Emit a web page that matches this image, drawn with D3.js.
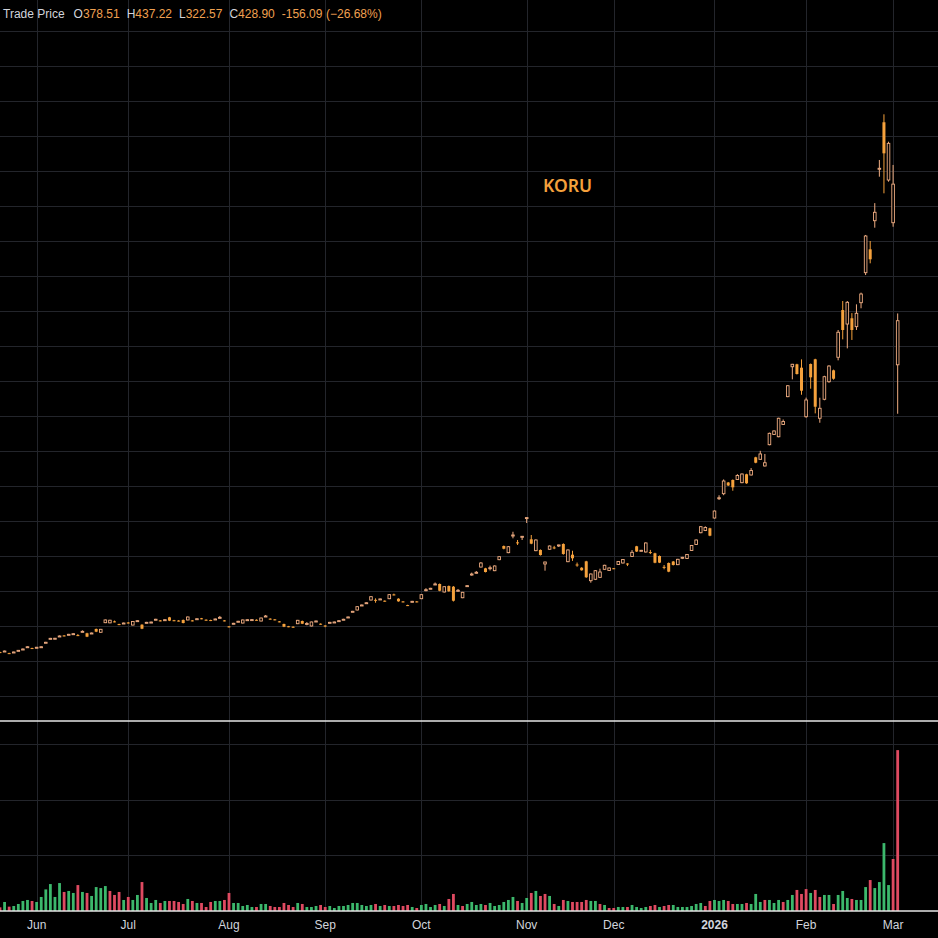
<!DOCTYPE html>
<html>
<head>
<meta charset="utf-8">
<script src="https://cdn.jsdelivr.net/npm/d3@7"></script>
<style>
  html, body { margin: 0; background: #000; }
  svg { display: block; }
</style>
</head>
<body>
<svg id="chart"></svg>
<script>
// Data
const SYMBOL = "KORU";
const SERIES_NAME = "Trade Price";
const FIRST_DAY = "2025-05-20";
const LAST_DAY = "2026-03-03";
const HOLIDAYS = ["2025-05-26", "2025-06-19", "2025-07-04", "2025-09-01", "2025-11-27",
  "2025-12-25", "2026-01-01", "2026-01-19", "2026-02-16"];

const opens = [
  50.2, 50.7, 49.0, 49.6, 51.5, 53.0, 55.6, 54.8, 55.0, 55.7,
  60.7, 65.2, 65.3, 67.9, 69.2, 69.8, 70.5, 69.6, 73.2, 71.7,
  71.3, 76.6, 72.8, 83.8, 83.6, 85.3, 82.2, 82.7, 84.0, 81.1,
  85.4, 81.5, 83.5, 83.9, 87.0, 86.4, 86.5, 89.9, 86.6, 86.2,
  86.9, 86.9, 86.4, 87.6, 88.8, 87.2, 86.8, 87.3, 89.4, 86.4,
  79.6, 82.4, 84.7, 83.4, 86.5, 86.8, 87.1, 85.7, 90.7, 88.4,
  87.6, 85.3, 82.3, 79.7, 79.2, 82.6, 85.7, 82.4, 80.0, 85.0,
  82.6, 80.6, 83.5, 84.0, 85.5, 87.1, 89.6, 96.1, 98.3, 103.3,
  105.9, 109.7, 109.9, 110.2, 108.9, 111.2, 116.1, 111.2, 108.1, 103.9,
  107.5, 108.1, 111.2, 121.0, 122.4, 127.3, 128.0, 118.9, 125.7, 124.9,
  120.0, 112.3, 125.4, 139.0, 140.9, 147.4, 145.9, 146.3, 143.2, 155.8,
  171.4, 163.8, 183.6, 175.6, 182.0, 203.4, 179.1, 166.1, 166.9, 150.9,
  167.7, 169.8, 172.3, 173.7, 153.5, 161.5, 150.3, 146.6, 153.9, 131.8,
  133.4, 135.6, 144.8, 143.4, 146.0, 150.3, 152.0, 151.4, 159.4, 171.1,
  165.9, 164.6, 164.5, 163.1, 160.0, 147.6, 152.0, 153.7, 150.1, 158.0,
  157.1, 166.3, 173.1, 186.6, 189.1, 191.7, 203.4, 226.2, 231.2, 244.0,
  246.9, 247.4, 243.8, 253.4, 252.6, 272.8, 270.5, 262.9, 287.2, 298.9,
  296.3, 310.3, 342.1, 376.3, 379.1, 375.2, 319.2, 379.4, 384.8, 317.4,
  339.1, 359.2, 372.2, 387.1, 441.1, 425.1, 431.7, 422.1, 449.5, 483.8,
  510.5, 543.2, 602.5, 655.7, 589.7, 540.9, 378.51
];
const highs = [
  50.6, 51.9, 49.4, 50.7, 52.6, 54.3, 56.8, 55.2, 56.1, 56.8,
  61.9, 66.4, 66.4, 69.2, 69.6, 71.0, 71.7, 70.8, 75.0, 72.3,
  72.5, 77.1, 76.7, 87.4, 87.1, 86.2, 82.6, 83.9, 84.5, 85.6,
  86.6, 82.0, 84.7, 85.0, 88.2, 86.8, 87.7, 90.4, 87.0, 86.7,
  87.4, 90.8, 86.8, 88.8, 89.2, 87.6, 87.2, 88.5, 91.5, 86.8,
  80.0, 83.6, 85.9, 87.4, 87.7, 87.8, 87.6, 89.6, 92.6, 88.8,
  87.9, 85.7, 82.7, 80.1, 79.6, 87.0, 86.2, 84.5, 85.0, 86.2,
  83.0, 80.8, 84.7, 85.0, 86.6, 88.2, 90.8, 97.3, 102.6, 104.5,
  107.1, 114.0, 111.6, 111.4, 109.3, 116.3, 117.0, 111.7, 108.5, 104.3,
  108.7, 108.5, 116.3, 123.2, 123.6, 129.7, 128.6, 125.5, 126.3, 125.7,
  122.3, 119.0, 126.6, 141.0, 142.8, 153.0, 146.5, 149.0, 149.2, 159.8,
  172.0, 171.4, 187.7, 178.3, 182.9, 204.2, 184.0, 179.0, 167.5, 153.5,
  172.0, 171.6, 173.0, 174.5, 167.5, 166.0, 152.5, 147.2, 154.5, 140.0,
  144.0, 145.5, 150.0, 146.8, 146.3, 154.2, 156.5, 151.7, 166.8, 171.6,
  167.0, 175.5, 167.0, 163.7, 160.6, 149.7, 152.6, 154.3, 156.8, 159.0,
  162.3, 172.6, 178.9, 194.1, 193.9, 192.3, 212.0, 229.4, 247.5, 244.6,
  247.5, 253.5, 254.3, 254.0, 260.5, 273.4, 280.2, 276.6, 301.0, 303.5,
  318.0, 316.0, 355.2, 379.6, 379.7, 384.7, 341.0, 380.0, 385.4, 340.9,
  366.0, 378.0, 373.0, 418.3, 451.4, 451.4, 437.6, 447.6, 461.0, 526.9,
  520.0, 563.3, 612.6, 664.8, 633.5, 606.9, 437.22
];
const lows = [
  49.0, 50.4, 47.9, 49.3, 51.2, 52.7, 55.3, 53.7, 54.6, 55.4,
  60.4, 64.9, 65.0, 67.6, 68.1, 69.5, 70.2, 68.5, 72.9, 67.3,
  70.9, 73.0, 72.3, 83.3, 83.2, 84.2, 81.0, 82.3, 82.8, 80.7,
  85.0, 76.4, 83.1, 83.5, 86.6, 85.3, 86.1, 85.6, 85.5, 85.2,
  83.0, 86.5, 85.3, 87.2, 87.7, 86.1, 85.6, 86.9, 88.5, 85.3,
  78.3, 82.0, 84.4, 83.0, 86.1, 86.4, 86.2, 85.3, 90.3, 87.3,
  86.5, 84.2, 78.7, 78.6, 78.0, 82.2, 82.2, 80.8, 79.6, 84.6,
  81.5, 78.6, 83.1, 83.6, 85.1, 86.7, 89.2, 95.7, 97.8, 102.9,
  105.5, 109.2, 106.6, 109.8, 107.8, 110.7, 115.0, 107.7, 107.0, 102.8,
  107.1, 107.0, 110.7, 119.7, 122.0, 126.9, 119.7, 118.3, 119.1, 108.0,
  119.5, 111.8, 124.9, 137.5, 139.8, 146.9, 141.2, 143.5, 142.7, 155.2,
  167.6, 163.2, 180.2, 172.6, 178.3, 197.7, 173.5, 165.5, 160.5, 143.2,
  167.2, 167.8, 170.3, 161.5, 153.0, 154.4, 147.7, 143.2, 135.0, 129.5,
  132.5, 135.0, 144.3, 143.0, 145.0, 149.8, 151.5, 148.5, 158.9, 164.6,
  165.5, 164.0, 162.2, 151.7, 151.9, 144.8, 141.5, 149.2, 149.6, 156.5,
  156.6, 165.8, 172.6, 186.0, 188.5, 182.6, 202.9, 224.0, 229.5, 240.0,
  234.6, 246.9, 243.2, 242.5, 252.0, 266.0, 270.0, 262.3, 286.5, 298.3,
  295.7, 309.7, 341.5, 361.9, 367.4, 344.3, 318.0, 351.2, 323.0, 312.3,
  338.0, 358.0, 361.5, 383.6, 407.6, 397.3, 406.9, 418.3, 443.1, 481.1,
  494.5, 535.2, 593.5, 574.5, 587.8, 536.3, 322.57
];
const closes = [
  49.5, 51.4, 48.3, 50.3, 52.2, 53.7, 56.3, 54.1, 55.7, 56.3,
  61.4, 65.9, 66.0, 68.6, 68.4, 70.5, 71.2, 68.9, 73.9, 67.8,
  72.0, 73.5, 76.2, 86.9, 86.6, 84.6, 81.5, 83.4, 83.2, 85.1,
  86.1, 76.9, 84.2, 84.5, 87.7, 85.7, 87.2, 86.1, 85.9, 85.6,
  83.4, 90.3, 85.7, 88.3, 88.1, 86.5, 86.1, 88.0, 89.9, 85.7,
  78.9, 83.1, 85.4, 86.9, 87.2, 87.3, 86.6, 89.1, 91.4, 87.7,
  86.9, 84.6, 79.2, 79.0, 78.5, 86.5, 82.6, 82.8, 84.6, 85.7,
  81.9, 80.3, 84.2, 84.6, 86.1, 87.7, 90.3, 96.8, 102.1, 104.0,
  106.6, 113.5, 109.4, 110.9, 108.2, 115.8, 115.4, 108.2, 107.4, 103.2,
  108.2, 107.4, 115.8, 121.5, 123.1, 128.0, 120.3, 124.9, 119.7, 108.9,
  120.8, 118.5, 126.1, 139.4, 141.4, 152.0, 141.7, 146.6, 148.6, 159.2,
  168.3, 170.6, 184.0, 175.2, 182.5, 203.9, 174.1, 178.3, 161.1, 153.1,
  171.4, 169.5, 172.6, 162.3, 166.9, 157.4, 150.1, 143.7, 135.7, 139.4,
  143.2, 141.7, 149.4, 146.3, 145.5, 153.7, 156.0, 150.9, 164.2, 165.1,
  166.5, 174.9, 164.2, 152.3, 152.4, 147.4, 142.1, 149.7, 156.2, 158.5,
  161.7, 172.0, 178.3, 193.5, 192.6, 183.2, 211.4, 226.6, 245.7, 240.6,
  238.5, 252.0, 253.7, 243.1, 257.7, 266.6, 276.6, 266.6, 300.2, 302.9,
  317.4, 313.7, 354.6, 379.1, 368.0, 348.9, 338.3, 364.2, 330.6, 328.8,
  364.9, 377.1, 362.6, 415.7, 418.3, 449.9, 418.3, 437.4, 459.4, 525.7,
  499.1, 552.8, 603.1, 620.2, 631.6, 584.99, 428.90
];
// Volume in millions of shares
const volumes = [
  0.33, 0.81, 0.39, 0.45, 0.63, 0.90, 0.99, 0.90, 0.81, 1.26,
  1.94, 2.42, 1.26, 2.51, 1.71, 1.80, 1.62, 2.33, 1.71, 1.62,
  1.35, 2.15, 2.06, 2.24, 1.80, 1.44, 1.71, 0.99, 1.26, 0.99,
  1.44, 2.60, 1.17, 0.72, 0.99, 0.72, 0.90, 0.90, 0.90, 0.81,
  0.63, 1.08, 0.90, 0.72, 0.72, 0.36, 0.81, 0.90, 0.90, 0.99,
  1.62, 0.72, 0.72, 0.45, 0.54, 0.36, 0.36, 0.63, 0.63, 0.45,
  0.36, 0.36, 0.72, 0.54, 0.36, 0.72, 0.63, 0.36, 0.36, 0.45,
  0.54, 0.36, 0.45, 0.27, 0.45, 0.45, 0.54, 0.72, 0.72, 0.54,
  0.45, 0.54, 0.63, 0.45, 0.54, 0.45, 0.45, 0.54, 0.45, 0.54,
  0.36, 0.27, 0.54, 0.63, 0.36, 0.54, 0.63, 0.45, 1.08, 1.53,
  0.54, 0.45, 0.63, 0.81, 0.54, 0.63, 0.54, 0.72, 0.45, 0.54,
  0.81, 0.99, 1.26, 0.90, 0.72, 1.17, 1.62, 1.80, 1.35, 1.53,
  1.35, 0.63, 0.45, 0.99, 0.90, 0.81, 0.81, 0.81, 0.99, 0.90,
  0.90, 0.63, 0.54, 0.27, 0.27, 0.36, 0.36, 0.36, 0.54, 0.36,
  0.27, 0.36, 0.45, 0.54, 0.36, 0.45, 0.54, 0.54, 0.36, 0.36,
  0.36, 0.45, 0.63, 0.72, 0.45, 0.90, 0.99, 0.90, 0.99, 0.90,
  0.63, 0.63, 0.63, 0.72, 0.63, 1.53, 0.81, 0.99, 0.99, 0.72,
  0.99, 0.81, 0.99, 1.44, 1.89, 1.53, 1.97, 1.62, 1.89, 1.26,
  1.44, 1.44, 0.63, 1.44, 1.80, 1.17, 1.08, 0.99, 0.99, 2.15,
  2.78, 2.06, 2.60, 6.10, 2.33, 4.67, 14.45
];
const priceTicks = d3.range(0, 761, 40);
const volumeTicks = [5, 10, 15];

// Layout constants
const WIDTH = 938;
const HEIGHT = 938;
const BAR_STEP = 4.58;
const PRICE_TOP = 31, PRICE_ZERO = 696;
const PANE_SPLIT = 721;
const VOL_BASE = 911;
const VOL_TOP = 744;

const COLOR_HOLLOW = "#f0ad82";
const COLOR_FILLED = "#f5a13c";
const COLOR_UP_VOL = "#3cb86c";
const COLOR_DOWN_VOL = "#df4a61";
const GRID = "#23252b";
const TEXT = "#d1d4dc";
const VALUE = "#f0a050";

// Trading days
const fmtDay = d3.utcFormat("%Y-%m-%d");
const holidaySet = new Set(HOLIDAYS);
const dates = d3.utcDays(new Date(FIRST_DAY), d3.utcDay.offset(new Date(LAST_DAY), 1))
  .filter(d => d.getUTCDay() % 6 !== 0 && !holidaySet.has(fmtDay(d)));

const bars = dates.map((date, i) => ({
  i, date,
  open: opens[i], high: highs[i], low: lows[i], close: closes[i], volume: volumes[i],
  volUp: i === 0 ? closes[i] >= opens[i] : closes[i] >= closes[i - 1]
}));

// Month ticks at the first trading day of each month
const monthTicks = bars.filter((d, i) => i > 0 && d.date.getUTCMonth() !== bars[i - 1].date.getUTCMonth())
  .map(d => ({
    i: d.i,
    label: d.date.getUTCMonth() === 0 ? d3.utcFormat("%Y")(d.date) : d3.utcFormat("%b")(d.date),
    year: d.date.getUTCMonth() === 0
  }));

// Scales
const x = d3.scaleLinear().domain([0, bars.length - 1]).range([0, BAR_STEP * (bars.length - 1)]);
const y = d3.scaleLinear().domain([0, 760]).range([PRICE_ZERO, PRICE_TOP]);
const yVol = d3.scaleLinear().domain([0, 15]).range([VOL_BASE, VOL_TOP]);

const svg = d3.select("#chart")
  .attr("width", WIDTH)
  .attr("height", HEIGHT)
  .style("background", "#000");

// Grid
const grid = svg.append("g").attr("shape-rendering", "crispEdges");
grid.selectAll(".hgrid")
  .data(priceTicks)
  .join("line")
  .attr("x1", 0).attr("x2", WIDTH)
  .attr("y1", d => Math.round(y(d)) + 0.5).attr("y2", d => Math.round(y(d)) + 0.5)
  .attr("stroke", GRID);
grid.selectAll(".vgrid")
  .data(volumeTicks)
  .join("line")
  .attr("x1", 0).attr("x2", WIDTH)
  .attr("y1", d => Math.round(yVol(d)) + 0.5).attr("y2", d => Math.round(yVol(d)) + 0.5)
  .attr("stroke", GRID);
grid.selectAll(".xgrid")
  .data(monthTicks)
  .join("line")
  .attr("x1", d => Math.round(x(d.i)) + 0.5).attr("x2", d => Math.round(x(d.i)) + 0.5)
  .attr("y1", 0).attr("y2", VOL_BASE)
  .attr("stroke", GRID);

// Pane borders
svg.append("line")
  .attr("x1", 0).attr("x2", WIDTH).attr("y1", PANE_SPLIT).attr("y2", PANE_SPLIT)
  .attr("stroke", "#e6e6e6").attr("stroke-width", 1.5);

// Volume bars
svg.append("g")
  .selectAll("rect")
  .data(bars)
  .join("rect")
  .attr("x", d => x(d.i) - 1.4)
  .attr("width", 2.8)
  .attr("y", d => yVol(d.volume))
  .attr("height", d => VOL_BASE - yVol(d.volume))
  .attr("fill", d => d.volUp ? COLOR_UP_VOL : COLOR_DOWN_VOL);

svg.append("line")
  .attr("x1", 0).attr("x2", WIDTH).attr("y1", VOL_BASE).attr("y2", VOL_BASE)
  .attr("stroke", "#e6e6e6").attr("stroke-width", 1.5);

// Candles: hollow when close >= open, filled otherwise
const candle = svg.append("g")
  .selectAll("g")
  .data(bars)
  .join("g");

candle.append("line")
  .attr("x1", d => x(d.i)).attr("x2", d => x(d.i))
  .attr("y1", d => y(d.high)).attr("y2", d => y(d.low))
  .attr("stroke", d => d.close >= d.open ? COLOR_HOLLOW : COLOR_FILLED)
  .attr("stroke-width", 1);

candle.append("rect")
  .attr("x", d => x(d.i) - (d.close >= d.open ? 1.3 : 1.5))
  .attr("width", d => d.close >= d.open ? 2.6 : 3)
  .attr("y", d => y(Math.max(d.open, d.close)))
  .attr("height", d => Math.max(1, Math.abs(y(d.open) - y(d.close))))
  .attr("fill", d => d.close >= d.open ? "#000" : COLOR_FILLED)
  .attr("stroke", d => d.close >= d.open ? COLOR_HOLLOW : "none")
  .attr("stroke-width", 0.9);

// Symbol label
svg.append("text")
  .attr("x", 567.5).attr("y", 191.5)
  .attr("text-anchor", "middle")
  .attr("font-family", "Noto Sans, Liberation Sans, Arial, sans-serif")
  .attr("font-size", 17.5)
  .attr("font-weight", 600)
  .attr("fill", COLOR_FILLED)
  .text(SYMBOL);

// Month labels
svg.append("g")
  .selectAll("text")
  .data(monthTicks)
  .join("text")
  .attr("x", d => x(d.i))
  .attr("y", 929)
  .attr("text-anchor", "middle")
  .attr("font-family", "Liberation Sans, Arial, sans-serif")
  .attr("font-size", 12)
  .attr("font-weight", d => d.year ? "bold" : "normal")
  .attr("fill", TEXT)
  .text(d => d.label);

// Header legend with last bar values
const last = bars[bars.length - 1];
const prevClose = bars[bars.length - 2].close;
const change = last.close - prevClose;
const pct = change / prevClose * 100;
const f2 = d3.format(".2f");
const signed = v => (v < 0 ? "-" : "+") + f2(Math.abs(v));

const header = svg.append("text")
  .attr("x", 3).attr("y", 18)
  .attr("font-family", "Liberation Sans, Arial, sans-serif")
  .attr("font-size", 12)
  .attr("fill", TEXT);
header.append("tspan").text(SERIES_NAME);
[["O", last.open], ["H", last.high], ["L", last.low], ["C", last.close]].forEach(([k, v], j) => {
  header.append("tspan").attr("dx", j === 0 ? 9 : 7).attr("fill", TEXT).text(k);
  header.append("tspan").attr("fill", VALUE).text(f2(v));
});
header.append("tspan").attr("dx", 7).attr("fill", VALUE).text(signed(change));
header.append("tspan").attr("dx", 3.5).attr("fill", VALUE)
  .text("(" + (pct < 0 ? "\u2212" : "+") + f2(Math.abs(pct)) + "%)");
</script>
</body>
</html>
